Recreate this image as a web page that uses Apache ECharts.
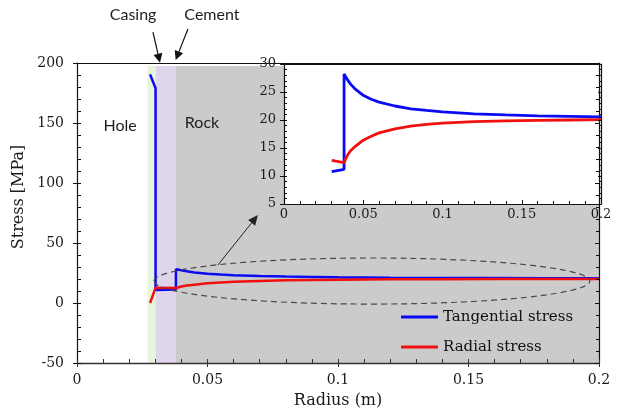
<!DOCTYPE html>
<html>
<head>
<meta charset="utf-8">
<script src="https://cdn.jsdelivr.net/npm/echarts@6/dist/echarts.min.js"></script>
<style>
  html, body { margin: 0; padding: 0; background: #fff; }
  #chart { width: 626px; height: 420px; }
</style>
</head>
<body>
<div id="chart"></div>
<script>
// Layer boundaries along the radius (m): casing, cement, rock
const layerBounds = [0.027, 0.0301, 0.0379, 0.2];

// Casing section
const casingRadius = [0.028, 0.0301];
const casingTangential = [190.5, 179];
const casingRadial = [0, 12.8];

// Cement section
const cementRadius = [0.0301, 0.0379];
const cementTangential = [10.8, 11.2];
const cementRadial = [12.8, 12.4];

// Rock section
const rockRadius = [0.0379, 0.039, 0.04, 0.042, 0.045, 0.05, 0.055, 0.06, 0.07, 0.08, 0.09, 0.1, 0.12, 0.14, 0.16, 0.18, 0.2];
const rockTangential = [28.2, 27.7, 27.2, 26.4, 25.5, 24.4, 23.7, 23.2, 22.5, 22.0, 21.7, 21.45, 21.1, 20.9, 20.75, 20.65, 20.55];
const rockRadial = [12.4, 13.1, 13.7, 14.5, 15.3, 16.4, 17.1, 17.7, 18.4, 18.9, 19.2, 19.45, 19.7, 19.85, 19.95, 20.0, 20.05];

const seriesNames = ['Tangential stress', 'Radial stress'];

const zip = (xs, ys) => xs.map((x, i) => [x, ys[i]]);
const mainTangential = zip(casingRadius, casingTangential)
  .concat(zip(cementRadius, cementTangential), zip(rockRadius, rockTangential));
const mainRadial = zip(casingRadius, casingRadial)
  .concat(zip(cementRadius, cementRadial), zip(rockRadius, rockRadial));
const insetTangential = zip(cementRadius, cementTangential).concat(zip(rockRadius, rockTangential));
const insetRadial = zip(cementRadius, cementRadial).concat(zip(rockRadius, rockRadial));

const BLUE = '#0a0af5';
const RED = '#f01010';
const SERIF = 'DejaVu Serif';

const chart = echarts.init(document.getElementById('chart'), null, { renderer: 'canvas' });

const mainRect = { left: 77, top: 63, width: 522, height: 300 };
const insetRect = { left: 284, top: 64, width: 317, height: 140 };

const tickLabel = (size) => ({ fontFamily: SERIF, fontSize: size, color: '#1a1a1a' });
const blackLine = { show: true, lineStyle: { color: '#111', width: 1.2 } };

const option = {
  animation: false,
  backgroundColor: '#fff',
  grid: [
    Object.assign({ outerBoundsMode: 'none' }, mainRect),
    Object.assign({ outerBoundsMode: 'none' }, insetRect),
    Object.assign({ outerBoundsMode: 'none' }, mainRect),
    Object.assign({ outerBoundsMode: 'none' }, insetRect)
  ],
  xAxis: [
    { // main bottom
      gridIndex: 0, type: 'value', min: 0, max: 0.2, interval: 0.05, position: 'bottom', z: 8,
      axisLine: { show: true, onZero: false, lineStyle: { color: '#333', width: 1.4 } },
      axisTick: { show: true, inside: true, length: 4, lineStyle: { color: '#333' } },
      minorTick: { show: true, splitNumber: 5, length: 4, lineStyle: { color: '#333' } },
      splitLine: { show: false },
      axisLabel: Object.assign({ margin: 10 }, tickLabel(14)),
      name: 'Radius (m)', nameLocation: 'middle', nameGap: 30,
      nameTextStyle: { fontFamily: SERIF, fontSize: 16, color: '#1a1a1a' }
    },
    { // main top
      gridIndex: 0, type: 'value', min: 0, max: 0.2, position: 'top', z: 8,
      axisLine: Object.assign({ onZero: false }, blackLine),
      axisTick: { show: false }, axisLabel: { show: false }, splitLine: { show: false }
    },
    { // inset bottom
      gridIndex: 1, type: 'value', min: 0, max: 0.2, interval: 0.05, position: 'bottom', z: 12,
      axisLine: { show: true, onZero: false, lineStyle: { color: '#111', width: 1.2 } },
      axisTick: { show: true, inside: true, length: 4, lineStyle: { color: '#111' } },
      minorTick: { show: true, splitNumber: 5, length: 3, lineStyle: { color: '#111' } },
      splitLine: { show: false },
      axisLabel: Object.assign({ margin: 4 }, tickLabel(13))
    },
    { // inset top
      gridIndex: 1, type: 'value', min: 0, max: 0.2, position: 'top', z: 12,
      axisLine: Object.assign({ onZero: false }, blackLine),
      axisTick: { show: false }, axisLabel: { show: false }, splitLine: { show: false }
    },
    { // main bottom, outward major ticks
      gridIndex: 2, type: 'value', min: 0, max: 0.2, interval: 0.05, position: 'bottom', z: 8,
      axisLine: { show: false, onZero: false },
      axisTick: { show: true, inside: false, length: 4, lineStyle: { color: '#333' } },
      axisLabel: { show: false }, splitLine: { show: false }
    },
    { // inset helper
      gridIndex: 3, type: 'value', min: 0, max: 0.2, show: false
    }
  ],
  yAxis: [
    { // main left
      gridIndex: 0, type: 'value', min: -50, max: 200, interval: 50, position: 'left', z: 8,
      axisLine: { show: true, onZero: false, lineStyle: { color: '#111', width: 1.2 } },
      axisTick: { show: true, inside: true, length: 4, lineStyle: { color: '#111' } },
      minorTick: { show: true, splitNumber: 5, length: 4, lineStyle: { color: '#111' } },
      splitLine: { show: false },
      axisLabel: Object.assign({ margin: 13 }, tickLabel(14)),
      name: 'Stress [MPa]', nameLocation: 'middle', nameGap: 48,
      nameTextStyle: { fontFamily: SERIF, fontSize: 16, color: '#1a1a1a', padding: [0, 0, 0, 32] }
    },
    { // main right
      gridIndex: 0, type: 'value', min: -50, max: 200, interval: 50, position: 'right', z: 8,
      axisLine: Object.assign({ onZero: false }, blackLine),
      axisTick: { show: true, inside: true, length: 4, lineStyle: { color: '#111' } },
      minorTick: { show: true, splitNumber: 5, length: 3, lineStyle: { color: '#111' } },
      axisLabel: { show: false }, splitLine: { show: false }
    },
    { // inset left
      gridIndex: 1, type: 'value', min: 5, max: 30, interval: 5, position: 'left', z: 12,
      axisLine: { show: true, onZero: false, lineStyle: { color: '#111', width: 1.2 } },
      axisTick: { show: true, inside: true, length: 3, lineStyle: { color: '#111' } },
      minorTick: { show: true, splitNumber: 5, length: 3, lineStyle: { color: '#111' } },
      splitLine: { show: false },
      axisLabel: Object.assign({ margin: 8 }, tickLabel(13))
    },
    { // inset right
      gridIndex: 1, type: 'value', min: 5, max: 30, interval: 5, position: 'right', z: 12,
      axisLine: Object.assign({ onZero: false }, blackLine),
      axisTick: { show: true, inside: true, length: 3, lineStyle: { color: '#111' } },
      minorTick: { show: true, splitNumber: 5, length: 2, lineStyle: { color: '#111' } },
      axisLabel: { show: false }, splitLine: { show: false }
    },
    { // main left, outward major ticks
      gridIndex: 2, type: 'value', min: -50, max: 200, interval: 50, position: 'left', z: 8,
      axisLine: { show: false, onZero: false },
      axisTick: { show: true, inside: false, length: 4, lineStyle: { color: '#111' } },
      axisLabel: { show: false }, splitLine: { show: false }
    },
    { // inset left, outward major ticks
      gridIndex: 3, type: 'value', min: 5, max: 30, interval: 5, position: 'left', z: 12,
      axisLine: { show: false, onZero: false },
      axisTick: { show: true, inside: false, length: 4, lineStyle: { color: '#111' } },
      axisLabel: { show: false }, splitLine: { show: false }
    }
  ],
  legend: {
    data: seriesNames,
    orient: 'vertical', left: 396, top: 303,
    itemWidth: 37, itemHeight: 3, itemGap: 12, icon: 'rect',
    selectedMode: false,
    textStyle: { fontFamily: SERIF, fontSize: 15, color: '#111', lineHeight: 18 }
  },
  series: [
    { // layer bands
      type: 'line', xAxisIndex: 0, yAxisIndex: 0, data: [], z: 1, silent: true,
      markArea: {
        silent: true,
        emphasis: { disabled: true },
        data: [
          [{ xAxis: layerBounds[0], yAxis: -50, itemStyle: { color: '#e9f4de' } }, { xAxis: layerBounds[1], yAxis: 197.5 }],
          [{ xAxis: layerBounds[1], yAxis: -50, itemStyle: { color: '#e0d6ec' } }, { xAxis: layerBounds[2], yAxis: 197.5 }],
          [{ xAxis: layerBounds[2], yAxis: -50, itemStyle: { color: '#cbcbcb' } }, { xAxis: layerBounds[3], yAxis: 197.5 }]
        ]
      }
    },
    {
      name: seriesNames[0], type: 'line', xAxisIndex: 0, yAxisIndex: 0, z: 3,
      data: mainTangential, showSymbol: false, color: BLUE,
      lineStyle: { color: BLUE, width: 2.5 }
    },
    {
      name: seriesNames[1], type: 'line', xAxisIndex: 0, yAxisIndex: 0, z: 3,
      data: mainRadial, showSymbol: false, color: RED,
      lineStyle: { color: RED, width: 2.5 }
    },
    { // inset background
      type: 'line', xAxisIndex: 2, yAxisIndex: 2, data: [], z: 9, silent: true,
      markArea: {
        silent: true,
        emphasis: { disabled: true },
        data: [[{ xAxis: 0, yAxis: 5, itemStyle: { color: '#ffffff' } }, { xAxis: 0.2, yAxis: 30 }]]
      }
    },
    {
      name: seriesNames[0], type: 'line', xAxisIndex: 2, yAxisIndex: 2, z: 10,
      data: insetTangential, showSymbol: false, color: BLUE,
      lineStyle: { color: BLUE, width: 2.8 }
    },
    {
      name: seriesNames[1], type: 'line', xAxisIndex: 2, yAxisIndex: 2, z: 10,
      data: insetRadial, showSymbol: false, color: RED,
      lineStyle: { color: RED, width: 2.8 }
    }
  ]
};

chart.setOption(option);

// Annotations placed in the main plot's data coordinates
const px = (x, y) => chart.convertToPixel({ gridIndex: 0 }, [x, y]);

function arrow(from, to, headLen, headHalf, color, width) {
  const dx = to[0] - from[0], dy = to[1] - from[1];
  const len = Math.sqrt(dx * dx + dy * dy);
  const ux = dx / len, uy = dy / len;
  const bx = to[0] - ux * headLen, by = to[1] - uy * headLen;
  const nx = -uy, ny = ux;
  return [
    { type: 'line', z: 60, shape: { x1: from[0], y1: from[1], x2: bx, y2: by },
      style: { stroke: color, lineWidth: width } },
    { type: 'polygon', z: 60,
      shape: { points: [[to[0], to[1]], [bx + nx * headHalf, by + ny * headHalf], [bx - nx * headHalf, by - ny * headHalf]] },
      style: { fill: color } }
  ];
}

function label(text, at) {
  return { type: 'text', z: 60, x: at[0], y: at[1],
    style: { text: text, align: 'center', verticalAlign: 'middle', fontFamily: 'Lato', fontSize: 16, fill: '#1e1e1e' } };
}

const c = px(0.113, 18.3);
const cx1 = px(0.113 + 0.0835, 18.3);
const cy1 = px(0.113, 18.3 + 19.2);

const graphics = [
  { type: 'ellipse', z: 55,
    shape: { cx: c[0], cy: c[1], rx: cx1[0] - c[0], ry: c[1] - cy1[1] },
    style: { fill: 'none', stroke: '#4a4a4a', lineWidth: 1.2, lineDash: [6, 4] } },
  ...arrow(px(0.054, 31.7), px(0.0693, 73.3), 10, 4.5, '#222', 1),
  ...arrow(px(0.0291, 225.8), px(0.0318, 200.3), 9, 4.5, '#111', 1.2),
  ...arrow(px(0.0425, 228.3), px(0.0378, 202.5), 9, 4.5, '#111', 1.2),
  label('Casing', px(0.0215, 240)),
  label('Cement', px(0.0517, 240)),
  label('Hole', px(0.0165, 147.5)),
  label('Rock', px(0.0479, 150))
];

chart.setOption({ graphic: graphics });
</script>
</body>
</html>
